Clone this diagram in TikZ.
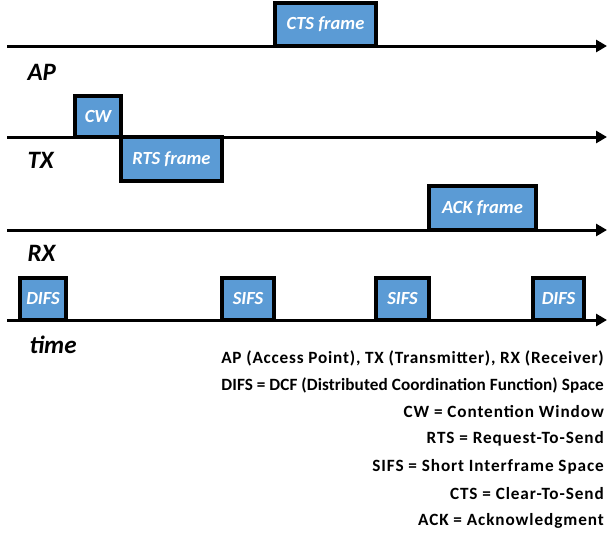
\documentclass[tikz,border=0pt]{standalone}
\usepackage{fontspec}
\setmainfont{Carlito}
\usetikzlibrary{arrows.meta}
\definecolor{boxblue}{HTML}{5B9BD5}
\begin{document}
\begin{tikzpicture}[x=1pt,y=-1pt,
  axis/.style={line width=3pt,-{Triangle[length=11pt,width=12pt]}},
  fbox/.style={draw=black,line width=3.5pt,fill=boxblue,inner sep=0pt,
    font=\fontsize{18.5}{22}\selectfont\bfseries\itshape,text=white},
  lane/.style={font=\fontsize{25}{30}\selectfont\bfseries\itshape,anchor=west},
  legend/.style={font=\fontsize{17.2}{20}\selectfont\bfseries\addfontfeature{LetterSpace=#1},anchor=east,inner sep=0pt},
  legend/.default=5.3]
\useasboundingbox (0,0) rectangle (608,536);
% axes
\coordinate (apL) at (7,46);  \coordinate (apR) at (607,46);
\coordinate (txL) at (7,137); \coordinate (txR) at (607,137);
\coordinate (rxL) at (7,230); \coordinate (rxR) at (607,230);
\coordinate (tL) at (7,320);  \coordinate (tR) at (607,320);
\draw[axis] (apL) -- (apR);
\draw[axis] (txL) -- (txR);
\draw[axis] (rxL) -- (rxR);
\draw[axis] (tL) -- (tR);
% frames
\node[fbox,minimum width=101pt,minimum height=43pt] (cts) at (325.5,24.5) {CTS frame};
\node[fbox,minimum width=46pt,minimum height=41pt] (cw) at (98,116.5) {CW};
\node[fbox,minimum width=101pt,minimum height=44pt] (rts) at (171.5,159) {RTS frame};
\node[fbox,minimum width=107pt,minimum height=44pt] (ack) at (482.5,208) {ACK frame};
\node[fbox,minimum width=46pt,minimum height=42pt] (d1) at (43,299) {DIFS};
\node[fbox,minimum width=52pt,minimum height=42pt] (s1) at (248,299) {SIFS};
\node[fbox,minimum width=53pt,minimum height=42pt] (s2) at (402.5,299) {SIFS};
\node[fbox,minimum width=51pt,minimum height=42pt] (d2) at (558.5,299) {DIFS};
% lane labels
\node[lane] (ap) at (24,72) {AP};
\node[lane] (tx) at (24,160) {TX};
\node[lane] (rx) at (24,253) {RX};
\node[lane] (time) at (26,345) {time};
% legend
\node[legend=4.7] (l1) at (604,358) {AP (Access Point), TX (Transmitter), RX (Receiver)};
\node[legend=0.5] (l2) at (604,385) {DIFS = DCF (Distributed Coordination Function) Space};
\node[legend] (l3) at (604,412) {CW = Contention Window};
\node[legend] (l4) at (604,439) {RTS = Request-To-Send};
\node[legend] (l5) at (604,467) {SIFS = Short Interframe Space};
\node[legend] (l6) at (604,494) {CTS = Clear-To-Send};
\node[legend] (l7) at (604,521) {ACK = Acknowledgment};
\end{tikzpicture}
\end{document}
